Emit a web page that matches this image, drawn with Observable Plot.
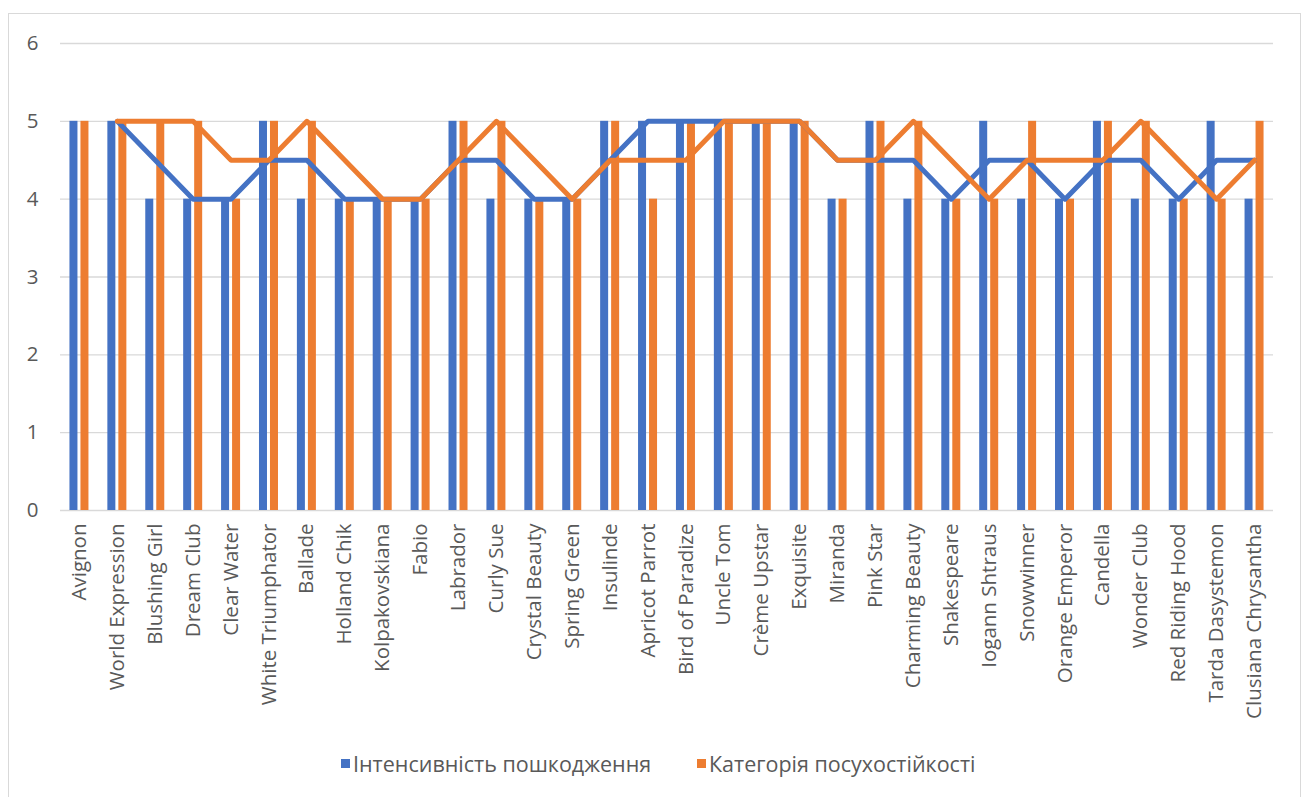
<!DOCTYPE html>
<html>
<head>
<meta charset="utf-8">
<script src="https://cdn.jsdelivr.net/npm/d3@7"></script>
<script src="https://cdn.jsdelivr.net/npm/@observablehq/plot@0.6"></script>
<style>
  html, body { margin: 0; padding: 0; background: #fff; }
  #wrap { position: relative; width: 1310px; height: 797px; overflow: hidden; font-family: "Open Sans", "Noto Sans", sans-serif; }
  #frame { position: absolute; left: 8px; top: 13px; width: 1293px; height: 800px; border: 1px solid #d9d9d9; box-sizing: border-box; }
  #chart { position: absolute; left: 0; top: 0; }
  #legend { position: absolute; top: 749px; left: 0; width: 1310px; height: 28px; font-size: 21.5px; color: #595959; }
  .item { position: absolute; top: 0; display: flex; align-items: center; white-space: nowrap; }
  .sw { width: 9px; height: 9px; margin-right: 3px; }
</style>
</head>
<body>
<div id="wrap">
  <div id="frame"></div>
  <div id="chart"></div>
  <div id="legend"></div>
</div>
<script>
// Tulip varieties
const varieties = [
  "Avignon", "World Expression", "Blushing Girl", "Dream Club", "Clear Water",
  "White Triumphator", "Ballade", "Holland Chik", "Kolpakovskiana", "Fabio",
  "Labrador", "Curly Sue", "Crystal Beauty", "Spring Green", "Insulinde",
  "Apricot Parrot", "Bird of Paradize", "Uncle Tom", "Crème Upstar", "Exquisite",
  "Miranda", "Pink Star", "Charming Beauty", "Shakespeare", "Iogann Shtraus",
  "Snowwinner", "Orange Emperor", "Candella", "Wonder Club", "Red Riding Hood",
  "Tarda Dasystemon", "Clusiana Chrysantha"
];

// Інтенсивність пошкодження (damage intensity score)
const damage = [5, 5, 4, 4, 4, 5, 4, 4, 4, 4, 5, 4, 4, 4, 5, 5, 5, 5, 5, 5, 4, 5, 4, 4, 5, 4, 4, 5, 4, 4, 5, 4];

// Категорія посухостійкості (drought-resistance category)
const drought = [5, 5, 5, 5, 4, 5, 5, 4, 4, 4, 5, 5, 4, 4, 5, 4, 5, 5, 5, 5, 4, 5, 5, 4, 4, 5, 4, 5, 5, 4, 4, 5];

const yTicks = [0, 1, 2, 3, 4, 5, 6];

const seriesNames = ["Інтенсивність пошкодження", "Категорія посухостійкості"];
const colors = ["#4472c4", "#ed7d31"];

const rows = varieties.map((v, i) => ({variety: v, damage: damage[i], drought: drought[i]}));

const W = 1310, H = 740;
const mL = 60, mR = 37, mT = 43, mB = 230;
const band = (W - mL - mR) / varieties.length;
const barW = 8, gap = 3;
const blueLeft = band / 2 - gap / 2 - barW;

const chart = Plot.plot({
  width: W,
  height: H,
  marginLeft: mL,
  marginRight: mR,
  marginTop: mT,
  marginBottom: mB,
  style: {fontSize: "20.5px", fontFamily: "'Open Sans', 'Noto Sans', sans-serif", color: "#595959", background: "transparent"},
  x: {domain: varieties, padding: 0, round: false, tickRotate: -90, tickSize: 0, tickPadding: 13, label: null},
  y: {domain: [0, 6], ticks: yTicks, tickSize: 0, tickPadding: 22, label: null, tickFormat: d => String(d)},
  marks: [
    Plot.ruleY(yTicks, {stroke: "#d9d9d9", strokeWidth: 1.3}),
    Plot.barY(rows, {x: "variety", y: "damage", fill: colors[0],
      insetLeft: blueLeft, insetRight: band - blueLeft - barW}),
    Plot.barY(rows, {x: "variety", y: "drought", fill: colors[1],
      insetLeft: blueLeft + barW + gap, insetRight: band - blueLeft - 2 * barW - gap}),
    // two-period moving-average trendlines
    Plot.lineY(rows, Plot.windowY({k: 2, anchor: "end", strict: true, reduce: "mean"},
      {x: "variety", y: "damage", stroke: colors[0], strokeWidth: 5})),
    Plot.lineY(rows, Plot.windowY({k: 2, anchor: "end", strict: true, reduce: "mean"},
      {x: "variety", y: "drought", stroke: colors[1], strokeWidth: 5}))
  ]
});
document.getElementById("chart").appendChild(chart);

// legend
const legend = document.getElementById("legend");
const legendX = [341, 697];
seriesNames.forEach((name, i) => {
  const item = document.createElement("div");
  item.className = "item";
  item.style.left = legendX[i] + "px";
  const sw = document.createElement("span");
  sw.className = "sw";
  sw.style.background = colors[i];
  const label = document.createElement("span");
  label.textContent = name;
  item.appendChild(sw);
  item.appendChild(label);
  legend.appendChild(item);
});
</script>
</body>
</html>
